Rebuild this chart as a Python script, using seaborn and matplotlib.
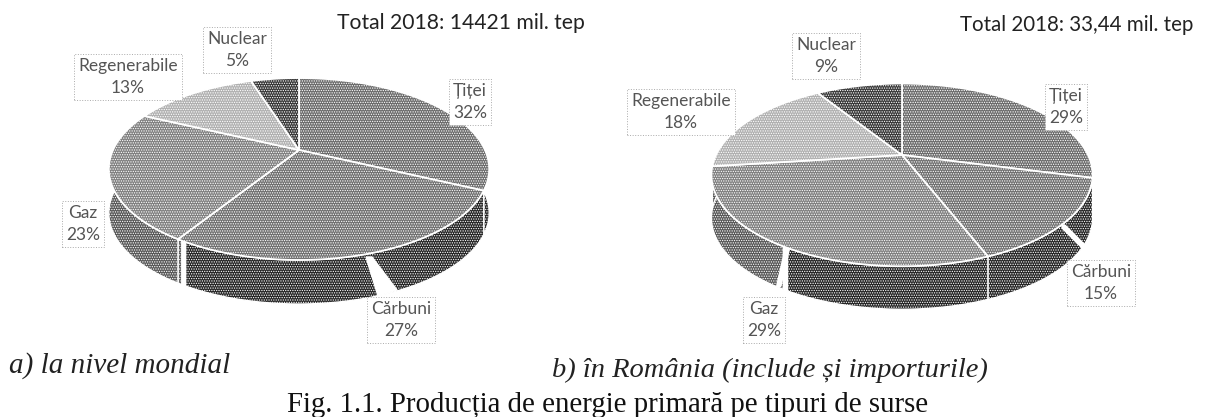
import numpy as np
import matplotlib.pyplot as plt
from matplotlib.patches import Polygon
import seaborn as sns

categories = ['Țiței', 'Cărbuni', 'Gaz', 'Regenerabile', 'Nuclear']
world_values = [32, 27, 23, 13, 5]
romania_values = [29, 15, 29, 18, 9]

top_colors = ['#6c6c6c', '#707070', '#808080', '#b0b0b0', '#383838']
side_colors = ['#222222', '#262626', '#262626', '#505050', '#1c1c1c']
side_left_color = '#585858'

sns.set_theme(style='white')
sns.set_palette(top_colors)
plt.rcParams['hatch.linewidth'] = 0.6


def project(theta, cx, cy, r, k, p):
    # tilted disc: the far edge is squeezed, the near edge stretched
    x = np.cos(np.radians(theta))
    y = np.sin(np.radians(theta))
    w = 1 + p * y
    return cx + r * x / w, cy - k * y / w


def slice_angles(ax, values):
    wedges, _ = ax.pie(values, startangle=90, counterclock=False)
    angles = [(w.theta1, w.theta2) for w in wedges]
    for w in wedges:
        w.remove()
    return angles


def draw_disc(ax, values, cx, cy, r, k, p, depth):
    angles = slice_angles(ax, values)
    # sides first, the top covers whatever is behind
    for i, (t1, t2) in enumerate(angles):
        theta = np.linspace(t1, t2, 80)
        x, y = project(theta, cx, cy, r, k, p)
        lighter = x < cx - 0.63 * r
        for mask, col in [(lighter, side_left_color), (~lighter, side_colors[i])]:
            if mask.sum() < 2:
                continue
            pts = np.r_[np.c_[x[mask], y[mask]], np.c_[x[mask], y[mask] + depth][::-1]]
            ax.add_patch(Polygon(pts, facecolor=col, edgecolor='white', hatch='.......', lw=1, zorder=2))
    for i, (t1, t2) in enumerate(angles):
        x, y = project(np.linspace(t1, t2, 80), cx, cy, r, k, p)
        pts = np.r_[[[cx, cy]], np.c_[x, y]]
        ax.add_patch(Polygon(pts, facecolor=top_colors[i], edgecolor='white', hatch='.......', lw=1.3, zorder=4))


def pie_label(ax, x, y, name, value):
    ax.text(x, y, f'{name}\n{value}%', ha='center', va='center', fontsize=12.5, family='Lato', color='#555555',
            linespacing=1.4, zorder=6,
            bbox=dict(facecolor='white', edgecolor='#aaaaaa', linestyle=':', lw=0.7, pad=3))


fig = plt.figure(figsize=(12.11, 4.17), dpi=100)
ax = fig.add_axes([0, 0, 1, 1])

draw_disc(ax, world_values, 299, 150, 186, 87, 0.209, 44)
draw_disc(ax, romania_values, 902, 155, 186, 87, 0.218, 43)

ax.set_xlim(0, 1211)
ax.set_ylim(417, 0)
ax.set_aspect('auto')
ax.axis('off')

# white leader gaps that cut the side wall
ax.fill([366, 378, 397, 372], [257, 296, 290, 257], color='white', zorder=3)
ax.plot([1064, 1087], [227, 250], color='white', lw=4, zorder=3)
ax.plot([787, 779], [250, 285], color='white', lw=4, zorder=3)

left_labels = [(470, 102), (401, 320), (83, 224), (128, 77), (237, 50)]
right_labels = [(1066, 107), (1101, 283), (764, 320), (681, 112), (826, 56)]
for i, name in enumerate(categories):
    pie_label(ax, left_labels[i][0], left_labels[i][1], name, world_values[i])
    pie_label(ax, right_labels[i][0], right_labels[i][1], name, romania_values[i])

ax.text(337, 23, 'Total 2018: 14421 mil. tep', fontsize=15.2, family='Lato', color='#222222', va='center')
ax.text(960, 25, 'Total 2018: 33,44 mil. tep', fontsize=14.8, family='Lato', color='#222222', va='center')
ax.text(9, 366, 'a) la nivel mondial', fontsize=21, family='Liberation Serif', style='italic', color='#222222', va='center')
ax.text(552, 370, 'b) în România (include și importurile)', fontsize=20.5, family='Liberation Serif', style='italic', color='#222222', va='center')
ax.text(287, 405, 'Fig. 1.1. Producția de energie primară pe tipuri de surse', fontsize=20.8, family='Liberation Serif', color='#111111', va='center')

fig.savefig('out.png', dpi=100)
